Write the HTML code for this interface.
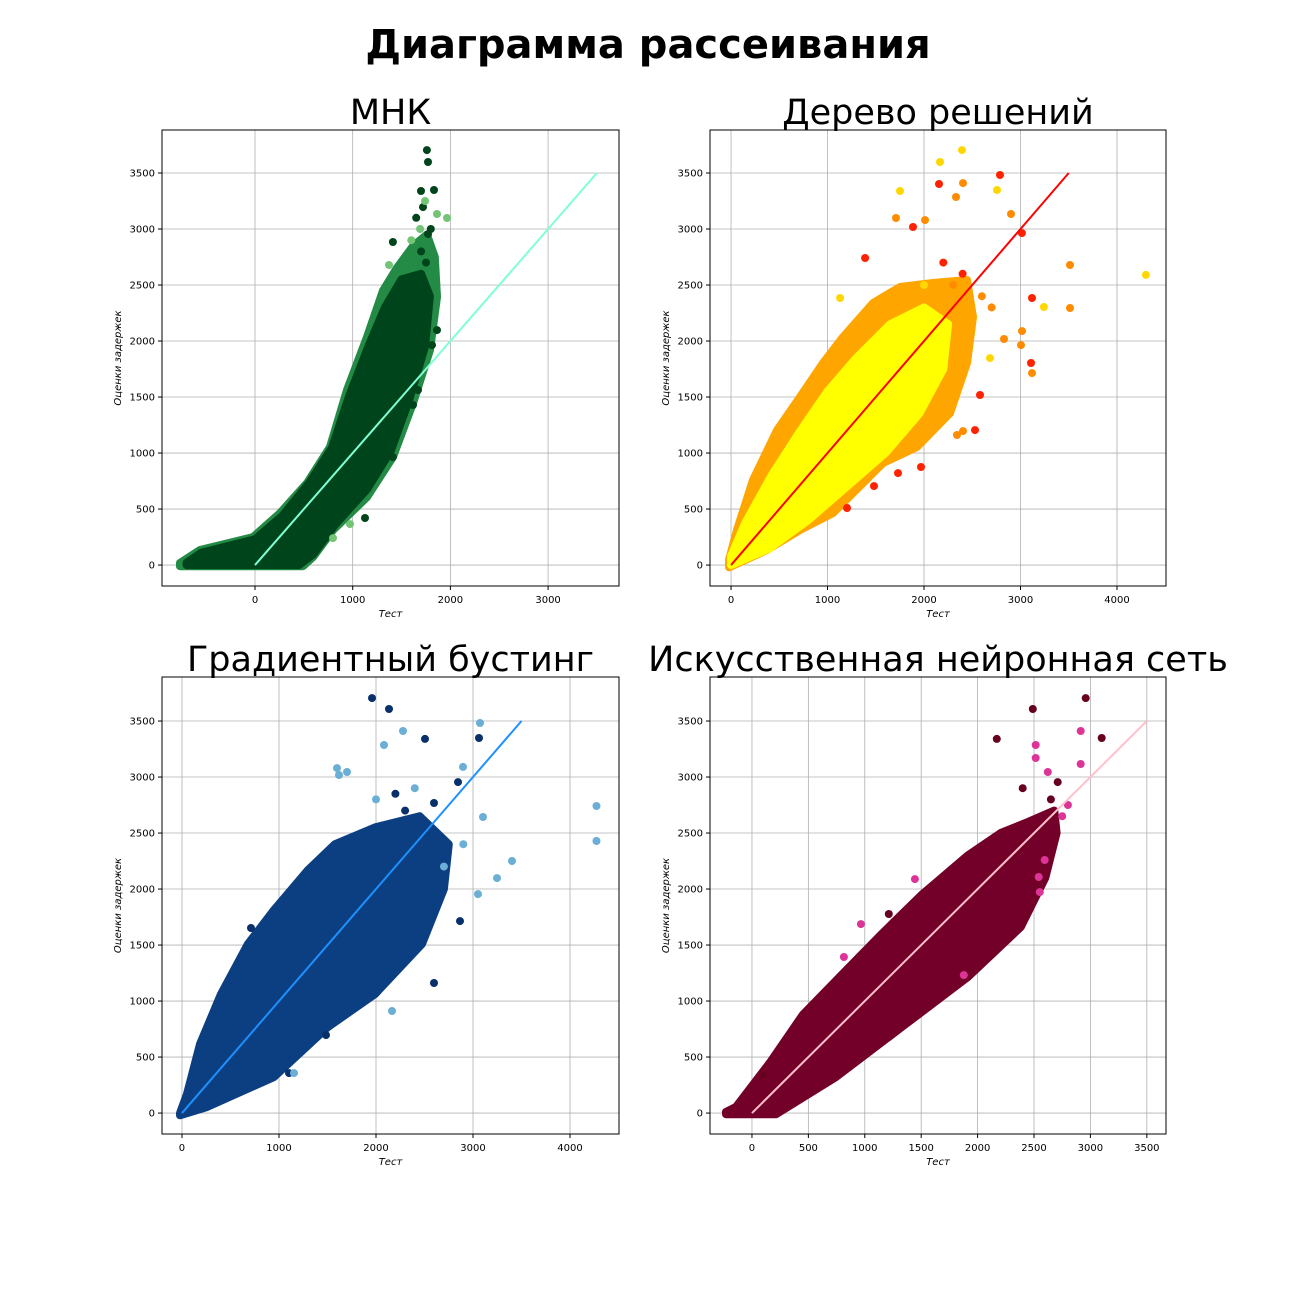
<!DOCTYPE html>
<html><head><meta charset="utf-8"><style>
body{margin:0;background:#fff;width:1296px;height:1296px;overflow:hidden;font-family:"Liberation Sans","DejaVu Sans",sans-serif}
svg text{font-family:"DejaVu Sans","Liberation Sans",sans-serif}
</style></head><body>
<svg id="chart" width="1296" height="1296" viewBox="0 0 1296 1296" xmlns="http://www.w3.org/2000/svg">
<rect width="1296" height="1296" fill="#fff"/>
<text x="648" y="58" text-anchor="middle" font-size="40" font-weight="bold">Диаграмма рассеивания</text>
</svg>
<script>
// ---- data (data-space: [test, estimate]) ----
const yTicks = [0,500,1000,1500,2000,2500,3000,3500];
const xTicks1 = [0,1000,2000,3000];
const xTicks2 = [0,1000,2000,3000,4000];
const xTicks3 = [0,1000,2000,3000,4000];
const xTicks4 = [0,500,1000,1500,2000,2500,3000,3500];
const titles = ["МНК","Дерево решений","Градиентный бустинг","Искусственная нейронная сеть"];

const cloud1Outer = [[-768,-10],[491,-10],[594,71],[798,312],[1146,607],[1412,964],[1617,1446],[1791,1920],[1863,2393],[1840,2750],[1760,2950],[1620,2850],[1450,2650],[1310,2450],[1146,2036],[942,1563],[768,1054],[532,732],[256,464],[-20,250],[-563,134],[-768,18]];
const cloud1Inner = [[-700,0],[450,0],[600,100],[820,360],[1150,680],[1390,1020],[1580,1480],[1740,1950],[1790,2400],[1700,2600],[1500,2550],[1330,2300],[1160,1950],[960,1500],[790,1050],[560,740],[280,440],[0,230],[-550,110],[-700,20]];
const pts1 = [[1760,3705],[1771,3598],[1699,3339],[1832,3348],[1720,3196],[1771,2955],[1412,2884],[1668,1563],[1617,1429],[1412,964],[1126,420],[1863,2098],[1812,1964],[1700,2800],[1750,2700],[1650,3100],[1800,3000]];
const pts1Light = [[1965,3098],[1863,3134],[1372,2679],[972,366],[798,241],[1690,3000],[1740,3250],[1600,2900]];

const cloud2Outer = [[-20,-20],[373,134],[715,313],[1057,464],[1575,911],[1927,1054],[2269,1357],[2446,1804],[2508,2214],[2446,2545],[2093,2518],[1751,2482],[1471,2339],[1161,2036],[954,1804],[715,1500],[477,1205],[228,759],[62,313],[-20,50]];
const cloud2Yellow = [[0,0],[400,150],[800,400],[1200,700],[1600,1000],[1950,1350],[2200,1750],[2250,2150],[2000,2300],[1650,2150],[1300,1850],[1000,1550],[720,1200],[420,800],[150,380],[0,80]];
const pts2Red = [[2155,3402],[2788,3482],[1886,3018],[3015,2964],[3119,2384],[3109,1804],[2528,1205],[1969,875],[1730,821],[1482,705],[1202,509],[1389,2741],[2580,1518],[2400,2600],[2200,2700]];
const pts2Orange = [[2404,3410],[2332,3286],[1710,3098],[2010,3080],[2902,3134],[3513,2679],[3513,2295],[3119,1714],[3005,1964],[3016,2089],[2829,2018],[2404,1196],[2342,1161],[2600,2400],[2700,2300],[2300,2500]];
const pts2Yellow = [[2166,3598],[2394,3705],[1751,3339],[2756,3348],[4300,2590],[3243,2304],[1130,2384],[2684,1848],[2000,2500]];

const cloud3Outer = [[-20,-20],[258,54],[948,321],[1505,768],[1990,1062],[2474,1509],[2700,2000],[2750,2400],[2450,2650],[1990,2550],[1577,2400],[1299,2170],[948,1812],[680,1509],[402,1062],[186,616],[52,170],[-20,0]];
const pts3Dark = [[1959,3705],[2134,3607],[2505,3340],[3062,3348],[2845,2955],[711,1652],[2598,1161],[2866,1714],[1485,696],[1103,357],[2598,2768],[2300,2700],[2200,2850]];
const pts3Light = [[2278,3411],[2082,3286],[3072,3482],[1598,3080],[1701,3045],[4273,2741],[4273,2429],[3247,2098],[3402,2250],[3103,2643],[3052,1955],[1155,357],[2165,911],[1619,3018],[2897,3090],[2900,2400],[2700,2200],[2000,2800],[2400,2900]];

const cloud4Outer = [[-230,-10],[213,-10],[744,321],[1329,768],[1913,1214],[2383,1661],[2600,2100],[2700,2500],[2680,2700],[2450,2600],[2205,2500],[1913,2300],[1506,1950],[1151,1600],[859,1300],[452,880],[159,450],[-142,54],[-230,10]];
const pts4Dark = [[2958,3705],[2489,3607],[2170,3340],[3100,3348],[2710,2955],[1213,1777],[97,339],[2400,2900],[2650,2800]];
const pts4Pink = [[2914,3411],[2515,3286],[2515,3170],[2914,3116],[2622,3045],[2551,1973],[2542,2107],[2595,2259],[815,1393],[966,1687],[1444,2089],[1878,1232],[2800,2750],[2750,2650]];

// ---- layout ----
const panels = [
 {L:162,T:130,W:457,H:456,x0:-952,x1:3726,y0:-187,y1:3884,xt:xTicks1,title:titles[0]},
 {L:710,T:130,W:456,H:456,x0:-218,x1:4508,y0:-187,y1:3884,xt:xTicks2,title:titles[1]},
 {L:162,T:677,W:457,H:457,x0:-206,x1:4505,y0:-187,y1:3893,xt:xTicks3,title:titles[2]},
 {L:710,T:677,W:456,H:457,x0:-372,x1:3670,y0:-187,y1:3893,xt:xTicks4,title:titles[3]}
];
const NS="http://www.w3.org/2000/svg";
const svg=document.getElementById('chart');
function mk(tag,attrs,parent){const e=document.createElementNS(NS,tag);for(const k in attrs)e.setAttribute(k,attrs[k]);(parent||svg).appendChild(e);return e;}
function sx(p,v){return p.L+(v-p.x0)/(p.x1-p.x0)*p.W;}
function sy(p,v){return p.T+p.H-(v-p.y0)/(p.y1-p.y0)*p.H;}
function poly(p,g,pts,fill,name){
  const e=mk('polygon',{points:pts.map(d=>sx(p,d[0]).toFixed(1)+','+sy(p,d[1]).toFixed(1)).join(' '),fill:fill,stroke:fill,'stroke-width':8,'stroke-linejoin':'round'},g);
  
  
}
function dots(p,g,pts,fill,name){
  pts.forEach(d=>{const c=mk('circle',{cx:sx(p,d[0]).toFixed(1),cy:sy(p,d[1]).toFixed(1),r:4,fill:fill},g);
  
  });
}
const series=[
 {clouds:[[cloud1Outer,'#238b45'],[cloud1Inner,'#00441b']],dots:[[pts1,'#00441b'],[pts1Light,'#74c476']],line:'#7fffd4'},
 {clouds:[[cloud2Outer,'#ffa500'],[cloud2Yellow,'#ffff00']],dots:[[pts2Red,'#ff2200'],[pts2Orange,'#ff8c00'],[pts2Yellow,'#ffd700']],line:'#ff0000'},
 {clouds:[[cloud3Outer,'#0b3f82']],dots:[[pts3Dark,'#08306b'],[pts3Light,'#6baed6']],line:'#1e90ff'},
 {clouds:[[cloud4Outer,'#730028']],dots:[[pts4Dark,'#67001f'],[pts4Pink,'#dd3497']],line:'#ffc0cb'}
];
panels.forEach((p,i)=>{
  const g=mk('g',{});
  
  
  const cp=mk('clipPath',{id:'cp'+i},g);mk('rect',{x:p.L,y:p.T,width:p.W,height:p.H},cp);
  p.xt.forEach(v=>{const x=sx(p,v);
    const l=mk('line',{x1:x,x2:x,y1:p.T,y2:p.T+p.H,stroke:'#b0b0b0','stroke-width':0.8},g);
    
    
    mk('line',{x1:x,x2:x,y1:p.T+p.H,y2:p.T+p.H+4,stroke:'#000'},g);
    const t=mk('text',{x:x,y:p.T+p.H+17,'text-anchor':'middle','font-size':10},g);t.textContent=v;
    
    });
  yTicks.forEach(v=>{const y=sy(p,v);
    const l=mk('line',{x1:p.L,x2:p.L+p.W,y1:y,y2:y,stroke:'#b0b0b0','stroke-width':0.8},g);
    
    
    mk('line',{x1:p.L-4,x2:p.L,y1:y,y2:y,stroke:'#000'},g);
    const t=mk('text',{x:p.L-7,y:y+3.5,'text-anchor':'end','font-size':10},g);t.textContent=v;
    
    });
  const d=mk('g',{'clip-path':'url(#cp'+i+')'},g);
  const s=series[i];
  s.clouds.forEach(c=>poly(p,d,c[0],c[1],'point-cloud'));
  s.dots.forEach(c=>dots(p,d,c[0],c[1],'scatter-point'));
  const ln=mk('line',{x1:sx(p,0),y1:sy(p,0),x2:sx(p,3500),y2:sy(p,3500),stroke:s.line,'stroke-width':2},d);
  
  
  const fr=mk('rect',{x:p.L,y:p.T,width:p.W,height:p.H,fill:'none',stroke:'#000','stroke-width':1},g);
  
  
  const tt=mk('text',{x:p.L+p.W/2,y:p.T-6,'text-anchor':'middle','font-size':35},g);tt.textContent=p.title;
  
  
  const xl=mk('text',{x:p.L+p.W/2,y:p.T+p.H+31,'text-anchor':'middle','font-size':10,'font-style':'italic'},g);xl.textContent='Тест';
  
  
  const yl=mk('text',{x:0,y:0,'text-anchor':'middle','font-size':10,'font-style':'italic',transform:'translate('+(p.L-41)+','+(p.T+p.H/2)+') rotate(-90)'},g);yl.textContent='Оценки задержек';
  
  
});
</script>
</body></html>
